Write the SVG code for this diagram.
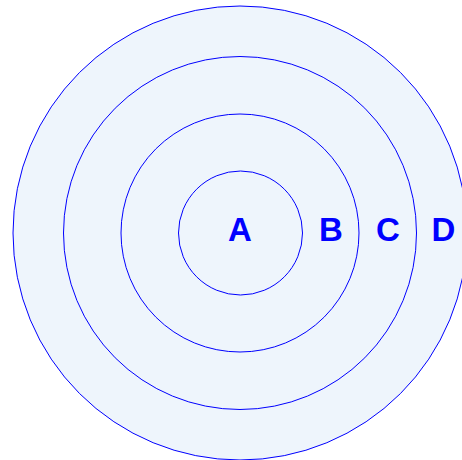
<svg xmlns="http://www.w3.org/2000/svg" width="462" height="460" viewBox="0 0 462 460">
<style>
.ring{fill:#eef5fc;stroke:#0000ff;stroke-width:1}
.lbl{font-family:"Liberation Sans",Arial,sans-serif;font-weight:bold;font-size:33px;fill:#0000ff;text-anchor:middle}
</style>
<rect width="462" height="460" fill="#ffffff"/>
<g id="D"><circle class="ring" cx="240" cy="233" r="227"/><text class="lbl" x="443.5" y="241">D</text></g>
<g id="C"><circle class="ring" cx="240" cy="233" r="176.5"/><text class="lbl" x="388" y="241">C</text></g>
<g id="B"><circle class="ring" cx="240" cy="233" r="119"/><text class="lbl" x="331" y="241">B</text></g>
<g id="A"><circle class="ring" cx="240.5" cy="233" r="62"/><text class="lbl" x="240" y="241">A</text></g>
<g id="connectors"></g>
</svg>
